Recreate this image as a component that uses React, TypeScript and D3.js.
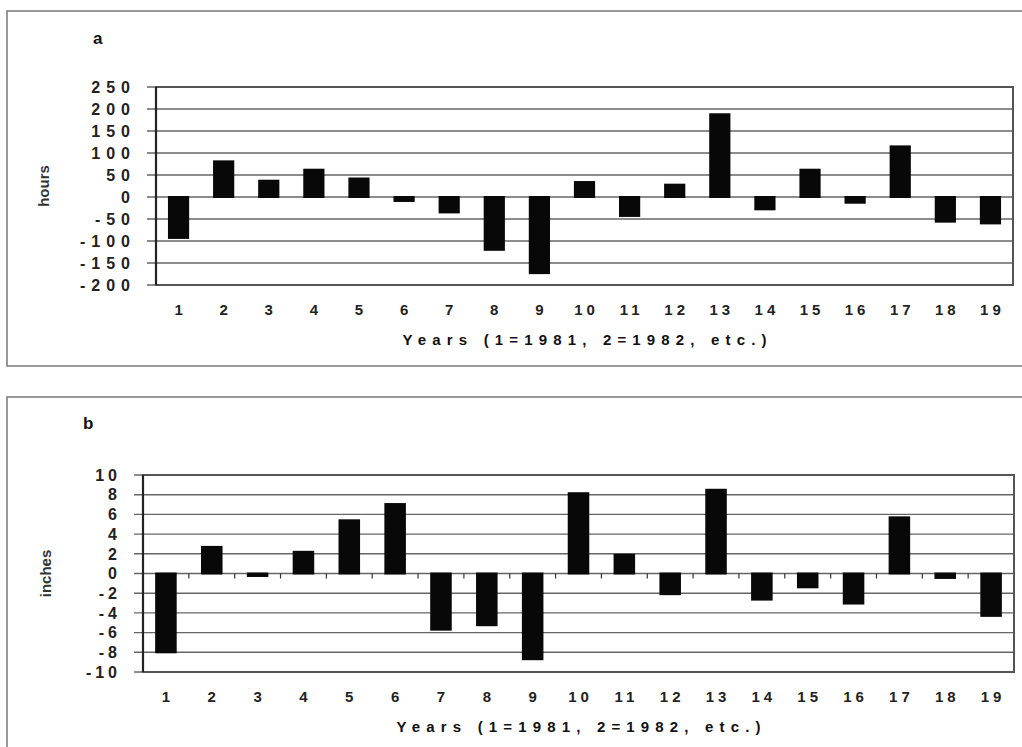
import React from 'react'
import * as d3 from 'd3'

const years = d3.range(1, 20).map(String)

// panel a: sunshine anomaly (hours)
const hoursValues = [-93, 81, 37, 62, 42, -9, -35, -120, -173, 34, -43, 28, 188, -28, 62, -13, 115, -56, -60]
const hoursTicks = [250, 200, 150, 100, 50, 0, -50, -100, -150, -200]

// panel b: precipitation anomaly (inches)
const inchValues = [-8.0, 2.7, -0.25, 2.2, 5.4, 7.05, -5.7, -5.25, -8.7, 8.15, 1.9, -2.1, 8.5, -2.65, -1.4, -3.05, 5.7, -0.45, -4.3]
const inchTicks = [10, 8, 6, 4, 2, 0, -2, -4, -6, -8, -10]

const xTitle = 'Years (1=1981, 2=1982, etc.)'
const font = 'Arial, "Liberation Sans", sans-serif'

interface PanelProps {
    letter: string
    yLabel: string
    values: number[]
    ticks: number[]
    frame: { x: number; y: number; w: number; h: number }
    plot: { left: number; right: number; top: number; bottom: number }
    letterPos: [number, number]
    yLabelX: number
    zeroTicks: boolean
    tickSpacing: number
}

const Panel: React.FC<PanelProps> = ({ letter, yLabel, values, ticks, frame, plot, letterPos, yLabelX, zeroTicks, tickSpacing }) => {
    const { left, right, top, bottom } = plot
    const y = d3.scaleLinear().domain([ticks[ticks.length - 1], ticks[0]]).range([bottom, top])
    const x = d3.scaleBand<string>().domain(years).range([left, right]).paddingInner(0.53).paddingOuter(0.265)
    const step = (right - left) / years.length
    const y0 = y(0)
    const cy = (top + bottom) / 2

    return (
        <g>
            <rect x={frame.x} y={frame.y} width={frame.w} height={frame.h} fill="white" stroke="#777" strokeWidth={1.5} />
            <text x={letterPos[0]} y={letterPos[1]} fontFamily={font} fontWeight="bold" fontSize={17} fill="#111">
                {letter}
            </text>
            <text
                transform={`translate(${yLabelX},${cy}) rotate(-90)`}
                textAnchor="middle"
                fontFamily={font}
                fontWeight="bold"
                fontSize={15}
                fill="#333"
            >
                {yLabel}
            </text>

            {/* grid lines + tick marks */}
            {ticks.map((t) => (
                <line key={'g' + t} x1={left - 9} x2={right} y1={y(t)} y2={y(t)} stroke="#666" strokeWidth={1.4} />
            ))}
            {ticks.map((t) => (
                <text
                    key={'t' + t}
                    x={left - 26 + tickSpacing}
                    y={y(t)}
                    dy="0.36em"
                    textAnchor="end"
                    fontFamily={font}
                    fontWeight="bold"
                    fontSize={16}
                    letterSpacing={tickSpacing}
                    fill="#222"
                >
                    {String(t)}
                </text>
            ))}

            {/* plot border */}
            <rect x={left} y={top} width={right - left} height={bottom - top} fill="none" stroke="#555" strokeWidth={2} />
            <line x1={left} x2={left} y1={top} y2={bottom} stroke="#222" strokeWidth={2.2} />

            {zeroTicks &&
                d3.range(1, years.length).map((i) => (
                    <line key={'z' + i} x1={left + i * step} x2={left + i * step} y1={y0} y2={y0 + 5} stroke="#333" strokeWidth={1.2} />
                ))}

            {/* bars */}
            {values.map((v, i) => {
                const yv = y(v)
                const y1 = Math.min(yv, y0) - 1
                const h = Math.abs(yv - y0) + 2
                return <rect key={'b' + i} x={x(years[i])} y={y1} width={x.bandwidth()} height={h} fill="#080808" />
            })}

            {/* x tick labels */}
            {years.map((d) => (
                <text
                    key={'x' + d}
                    x={(x(d) as number) + x.bandwidth() / 2 + 2}
                    y={bottom + 25}
                    dy="0.36em"
                    textAnchor="middle"
                    fontFamily={font}
                    fontWeight="bold"
                    fontSize={15}
                    letterSpacing={4}
                    fill="#222"
                >
                    {d}
                </text>
            ))}
            <text
                x={(left + right) / 2}
                y={bottom + 55}
                dy="0.36em"
                textAnchor="middle"
                fontFamily={font}
                fontWeight="bold"
                fontSize={15}
                textLength={364}
                lengthAdjust="spacing"
                fill="#111"
            >
                {xTitle}
            </text>
        </g>
    )
}

const App: React.FC = () => {
    return (
        <svg
            width={1022}
            height={747}
            viewBox="0 0 1022 747"
            style={{ position: 'absolute', top: 0, left: 0, background: 'white' }}
        >
            <rect width={1022} height={747} fill="white" />
            <Panel
                letter="a"
                yLabel="hours"
                values={hoursValues}
                ticks={hoursTicks}
                frame={{ x: 7, y: 11, w: 1030, h: 355 }}
                plot={{ left: 156, right: 1013, top: 87, bottom: 285 }}
                letterPos={[93, 44]}
                yLabelX={49}
                zeroTicks={false}
                tickSpacing={6}
            />
            <Panel
                letter="b"
                yLabel="inches"
                values={inchValues}
                ticks={inchTicks}
                frame={{ x: 7, y: 397, w: 1030, h: 360 }}
                plot={{ left: 143, right: 1014, top: 475, bottom: 672 }}
                letterPos={[83, 429]}
                yLabelX={51}
                zeroTicks={true}
                tickSpacing={4}
            />
        </svg>
    )
}

export default App
